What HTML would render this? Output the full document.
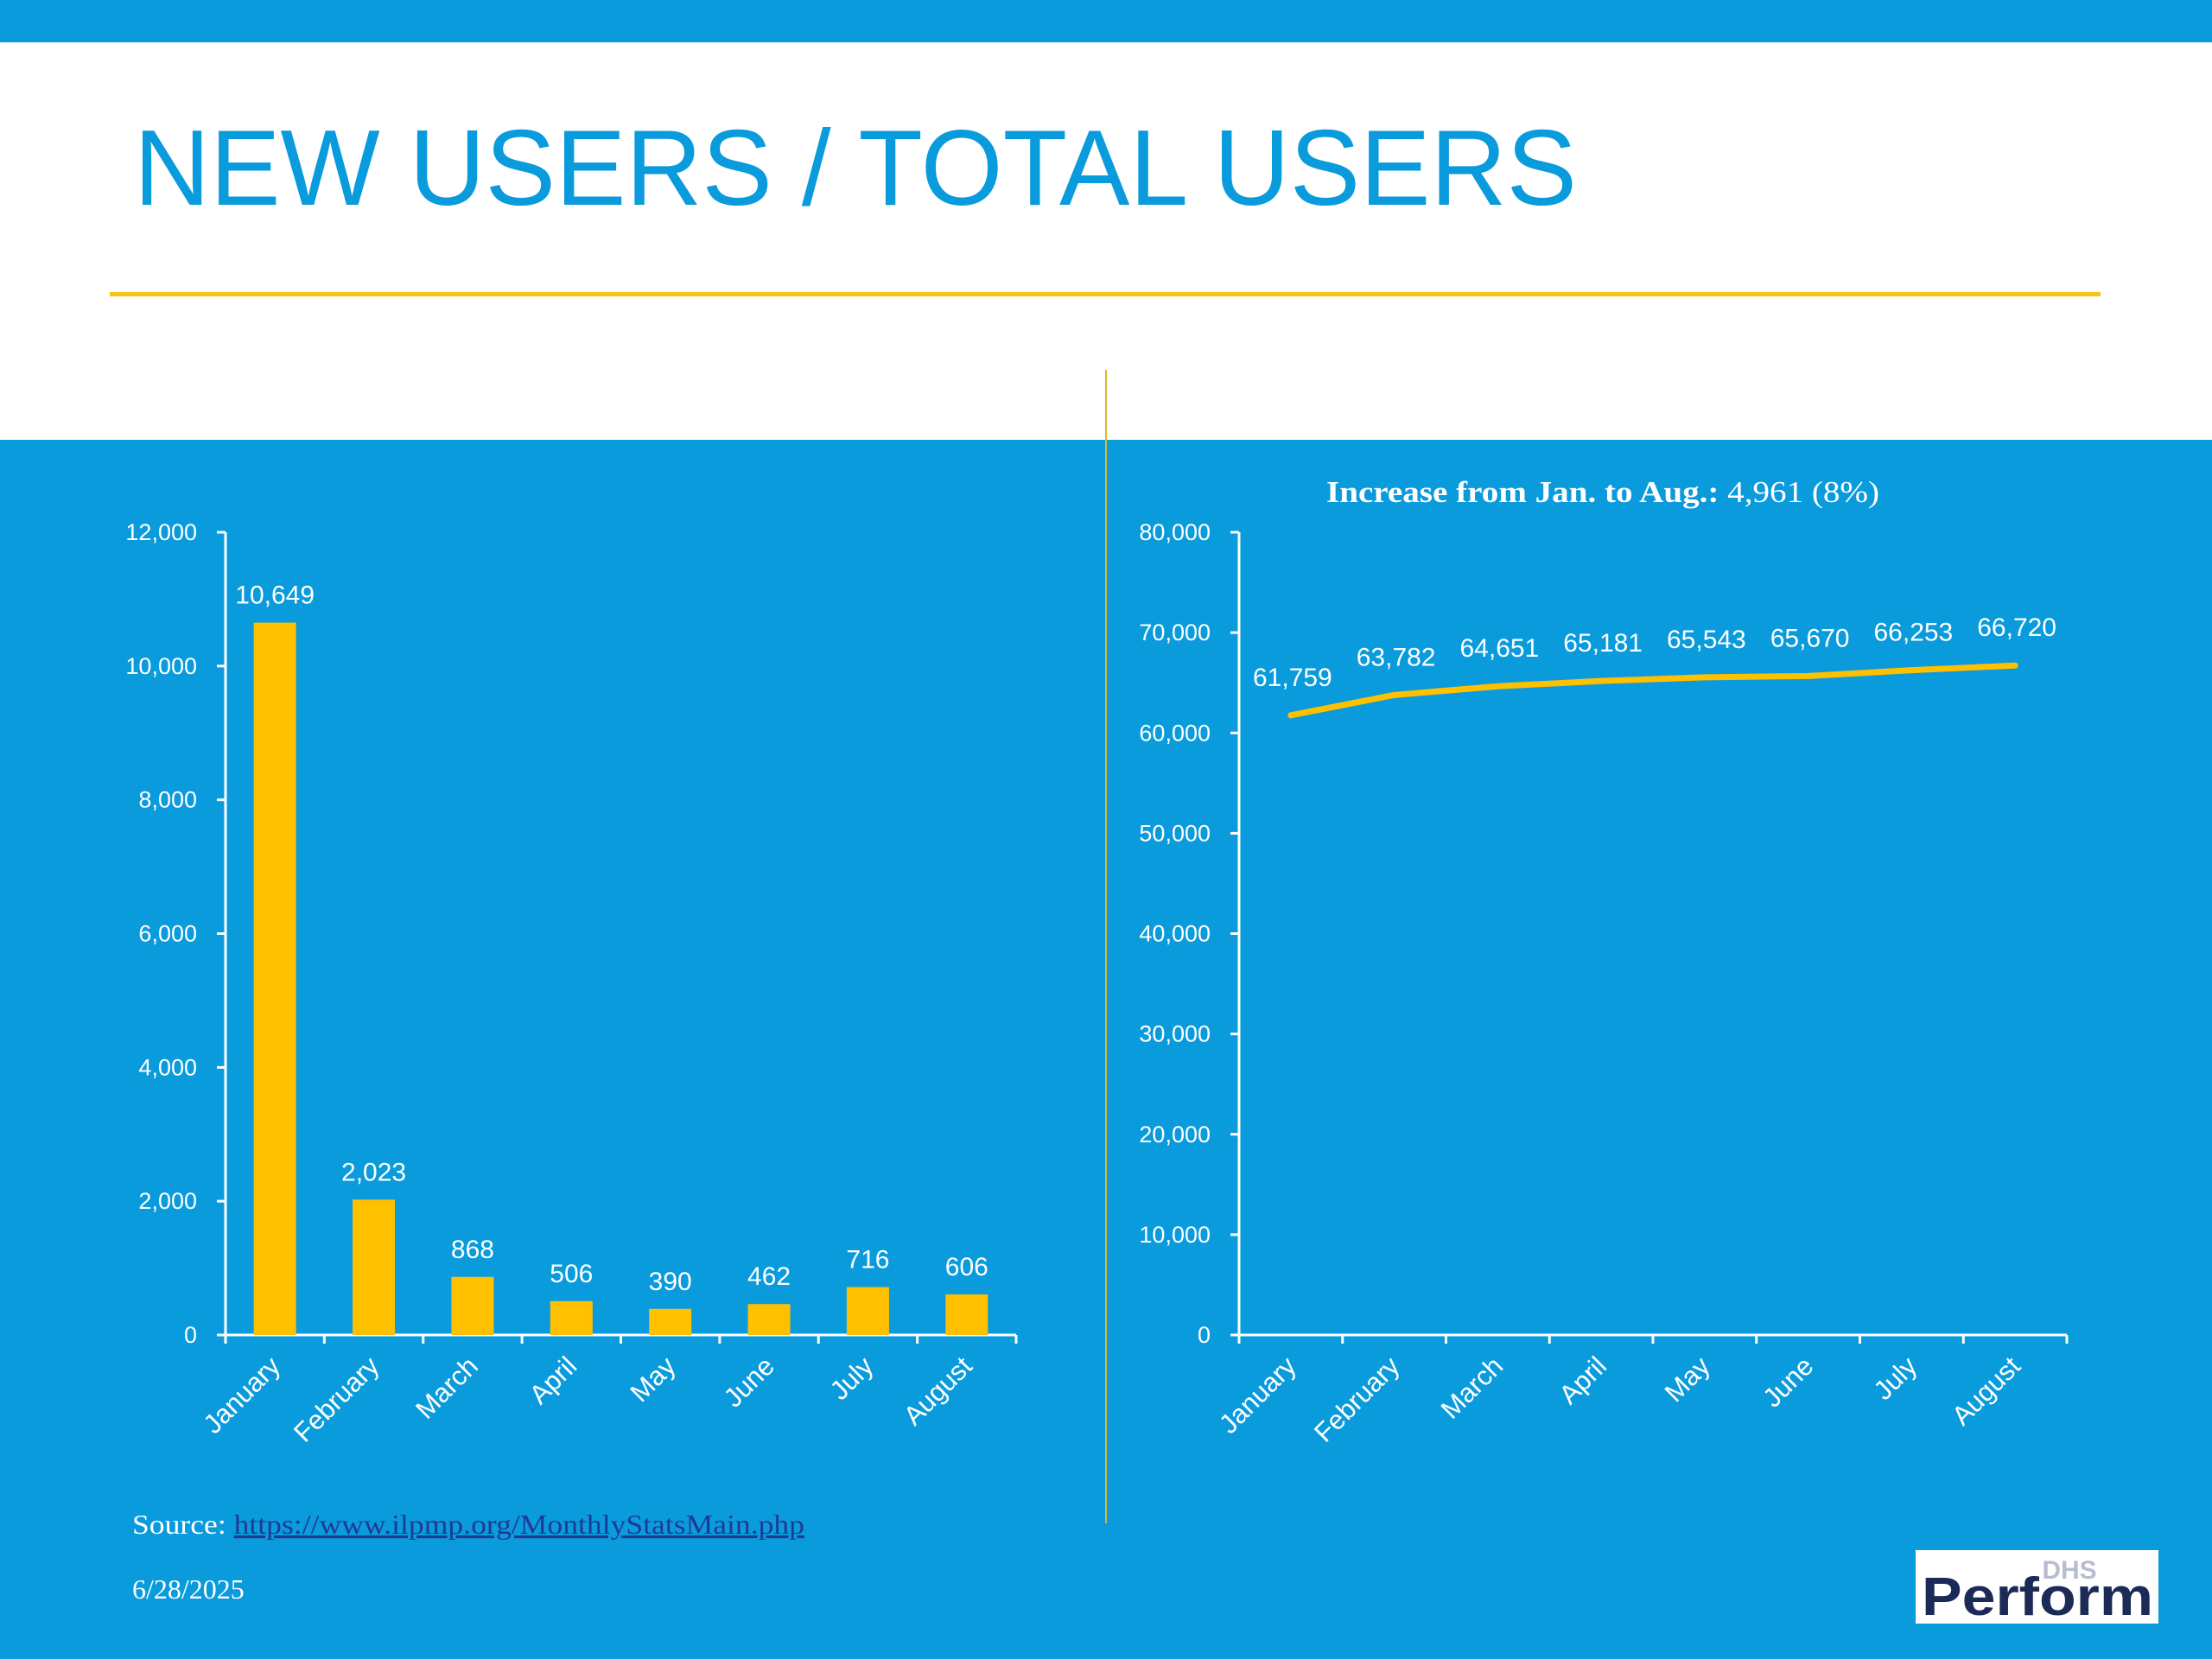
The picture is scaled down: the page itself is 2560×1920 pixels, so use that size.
<!DOCTYPE html>
<html><head><meta charset="utf-8">
<style>
html,body{margin:0;padding:0;}
body{width:2560px;height:1920px;overflow:hidden;background:#0A9BDD;font-family:"Liberation Sans",sans-serif;}
svg{display:block;}
</style></head>
<body>
<svg id="slide" width="2560" height="1920" viewBox="0 0 2560 1920">
  <rect x="0" y="0" width="2560" height="1920" fill="#0A9BDD"/>
  <rect x="0" y="49" width="2560" height="460" fill="#FFFFFF"/>
  <text x="155" y="237" font-size="124" fill="#0A9BDD" textLength="1670" lengthAdjust="spacingAndGlyphs" font-family="Liberation Sans, sans-serif">NEW USERS / TOTAL USERS</text>
  <rect x="127" y="338" width="2304" height="5" fill="#F5C518"/>
  <rect x="1279" y="428" width="2" height="1335" fill="#D9B830"/>
  <g id="left"></g>
  <g id="right"></g>
  <text x="1855" y="581" font-size="35" fill="#fff" text-anchor="middle" textLength="640" lengthAdjust="spacingAndGlyphs" font-family="Liberation Serif, serif"><tspan font-weight="bold">Increase from Jan. to Aug.:</tspan> 4,961 (8%)</text>
  <text x="153" y="1775" font-size="32" fill="#fff" textLength="778" lengthAdjust="spacingAndGlyphs" font-family="Liberation Serif, serif">Source: <tspan fill="#1F3A93" text-decoration="underline">https://www.ilpmp.org/MonthlyStatsMain.php</tspan></text>
  <text x="153" y="1850" font-size="32" fill="#fff" font-family="Liberation Serif, serif">6/28/2025</text>
  <g>
    <rect x="2217" y="1794" width="281" height="85" fill="#fff"/>
    <text x="2395" y="1827" font-size="30" font-weight="bold" fill="#B8BCD0" text-anchor="middle">DHS</text>
    <text x="2224" y="1869" font-size="62" font-weight="bold" fill="#1B2A57" textLength="268" lengthAdjust="spacingAndGlyphs">Perform</text>
  </g>
</svg>
<script>
const months = ["January","February","March","April","May","June","July","August"];
const newUsers = [10649, 2023, 868, 506, 390, 462, 716, 606];
const newUserLabels = ["10,649","2,023","868","506","390","462","716","606"];
const leftTicks = [0, 2000, 4000, 6000, 8000, 10000, 12000];
const leftTickLabels = ["0","2,000","4,000","6,000","8,000","10,000","12,000"];
const totalUsers = [61759, 63782, 64651, 65181, 65543, 65670, 66253, 66720];
const totalUserLabels = ["61,759","63,782","64,651","65,181","65,543","65,670","66,253","66,720"];
const rightTicks = [0, 10000, 20000, 30000, 40000, 50000, 60000, 70000, 80000];
const rightTickLabels = ["0","10,000","20,000","30,000","40,000","50,000","60,000","70,000","80,000"];

const NS = "http://www.w3.org/2000/svg";
function mk(tag, attrs, parent){ const e=document.createElementNS(NS,tag); for(const k in attrs) e.setAttribute(k,attrs[k]); parent.appendChild(e); return e; }

function axes(g, x0, x1, y0, y1, maxV, ticks, tickLabels){
  const ys = v => y0 - (v/maxV)*(y0-y1);
  const band = (x1-x0)/months.length;
  const xs = i => x0 + band*(i+0.5);
  const ya = mk("line",{x1:x0,y1:y1,x2:x0,y2:y0,stroke:"#fff","stroke-width":3},g);
  
  
  const xa = mk("line",{x1:x0,y1:y0,x2:x1,y2:y0,stroke:"#fff","stroke-width":3},g);
  
  
  ticks.forEach((t,i)=>{
    const y=ys(t);
    mk("line",{x1:x0-10,y1:y,x2:x0,y2:y,stroke:"#fff","stroke-width":3},g);
    const tl = mk("text",{x:x0-33,y:y+9,"font-size":27,fill:"#fff","text-anchor":"end"},g);
    tl.textContent = tickLabels[i];
    
    
  });
  for(let i=0;i<=months.length;i++){
    const tx=x0+band*i;
    mk("line",{x1:tx,y1:y0,x2:tx,y2:y0+10,stroke:"#fff","stroke-width":3},g);
  }
  months.forEach((m,i)=>{
    const cx = xs(i)+8, cy = y0+38;
    const t = mk("text",{x:cx,y:cy,"font-size":31,fill:"#fff","text-anchor":"end",transform:`rotate(-45 ${cx} ${cy})`},g);
    t.textContent = m;
    
    
  });
  return {ys, xs, band};
}

// Left bar chart
const L = document.getElementById("left");
const la = axes(L, 261, 1176, 1545, 616, 12000, leftTicks, leftTickLabels);
newUsers.forEach((v,i)=>{
  const y = la.ys(v), w = 49;
  const b = mk("rect",{x:la.xs(i)-w/2,y:y,width:w,height:1545-y,fill:"#FFC000"},L);
  
  
  const t = mk("text",{x:la.xs(i),y:y-22,"font-size":30,fill:"#fff","text-anchor":"middle"},L);
  t.textContent = newUserLabels[i];
  
  
});

// Right line chart
const R = document.getElementById("right");
const ra = axes(R, 1434, 2392, 1545, 616, 80000, rightTicks, rightTickLabels);
const pts = totalUsers.map((v,i)=>ra.xs(i)+","+ra.ys(v)).join(" ");
const pl = mk("polyline",{points:pts,fill:"none",stroke:"#FFC000","stroke-width":7,"stroke-linecap":"round","stroke-linejoin":"round"},R);


totalUsers.forEach((v,i)=>{
  const t = mk("text",{x:ra.xs(i)+2,y:ra.ys(v)-34,"font-size":30,fill:"#fff","text-anchor":"middle"},R);
  t.textContent = totalUserLabels[i];
  
  
});
</script>
</body></html>
